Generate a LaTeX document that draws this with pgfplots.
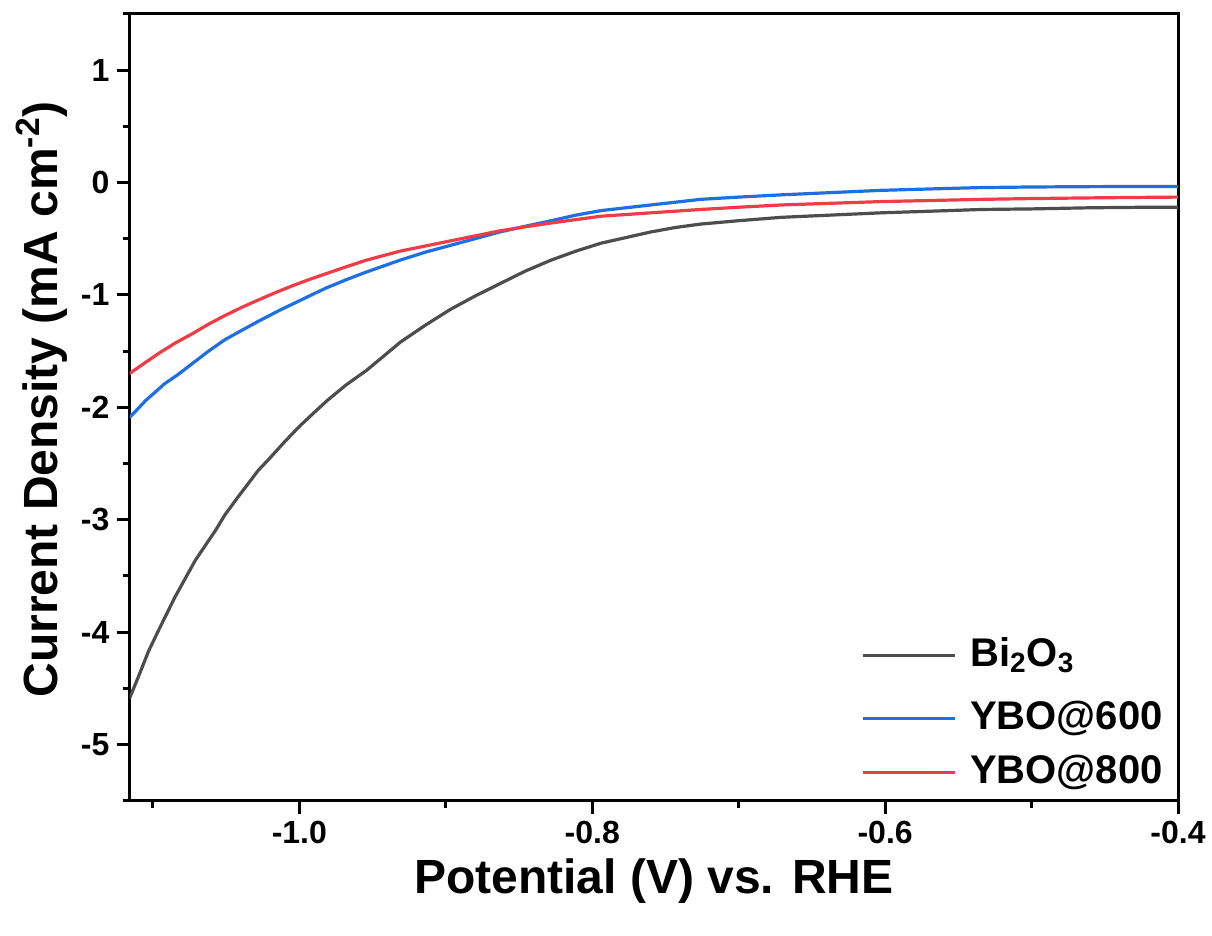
\documentclass[border=0pt]{standalone}
\usepackage{pgfplots}
\pgfplotsset{compat=1.18}
\usepackage{fontspec}
\setmainfont{Liberation Sans}
\definecolor{cgray}{HTML}{4D4D4D}
\definecolor{cblue}{HTML}{1E6FE3}
\definecolor{cred}{HTML}{F03C46}
\begin{document}
\begin{tikzpicture}
\useasboundingbox (0,0) rectangle (606pt,468pt);
\begin{axis}[
  at={(64.75pt,67.65pt)}, anchor=south west,
  scale only axis, width=524.25pt, height=393.4pt,
  xmin=-1.116, xmax=-0.4, ymin=-5.5, ymax=1.5,
  xtick={-1.0,-0.8,-0.6,-0.4}, ytick={-5,-4,...,1},
  minor xtick={-1.1,-0.9,-0.7,-0.5},
  minor ytick={-5.5,-4.5,...,1.5},
  tick align=outside, xtick pos=bottom, ytick pos=left,
  major tick length=6.5pt, minor tick length=3.5pt,
  every tick/.style={black, line width=1.5pt},
  axis line style={line width=1.5pt},
  /pgf/number format/assume math mode=true,
  xticklabel style={/pgf/number format/.cd, fixed, fixed zerofill, precision=1},
  ticklabel style={font=\bfseries\fontsize{16}{19}\selectfont},
  xlabel={Potential (V) vs. RHE},
  ylabel={Current Density (mA cm\textsuperscript{-2})},
  label style={font=\bfseries\fontsize{24}{28}\selectfont},
  xlabel style={at={(axis description cs:0.5,0)}, yshift=-40pt, anchor=center},
  ylabel style={at={(axis description cs:-0.0835,0.51)}, anchor=center},
  legend style={draw=none, fill=none, at={(axis description cs:0.9895,0.0123)}, anchor=south east,
    font=\bfseries\fontsize{20}{24}\selectfont, inner sep=0pt, row sep=6.5pt, column sep=5pt,
    cells={anchor=base west, inner sep=0pt, text height=15pt, text depth=4pt}},
  legend image code/.code={\draw[#1, line width=1.6pt] (0pt,5.5pt) -- (46pt,5.5pt);},
  every axis plot/.append style={line width=1.6pt},
]
\addplot[cgray] coordinates {
(-1.116,-4.59) (-1.110,-4.40) (-1.103,-4.17) (-1.096,-3.98) (-1.085,-3.69)
(-1.071,-3.36) (-1.057,-3.09) (-1.051,-2.96) (-1.042,-2.80) (-1.028,-2.56)
(-1.020,-2.45) (-1.011,-2.32) (-1.000,-2.17) (-0.991,-2.06) (-0.981,-1.94)
(-0.968,-1.80) (-0.954,-1.67) (-0.942,-1.54) (-0.931,-1.42) (-0.914,-1.27)
(-0.897,-1.13) (-0.880,-1.01) (-0.863,-0.90) (-0.846,-0.79) (-0.828,-0.69)
(-0.811,-0.61) (-0.794,-0.54) (-0.777,-0.49) (-0.760,-0.44) (-0.743,-0.40)
(-0.726,-0.37) (-0.700,-0.34) (-0.671,-0.31) (-0.637,-0.29) (-0.603,-0.27)
(-0.568,-0.255) (-0.534,-0.24) (-0.500,-0.235) (-0.460,-0.225) (-0.420,-0.22) (-0.400,-0.22)
};
\addlegendentry[text depth=6pt]{Bi\textsubscript{2}O\textsubscript{3}}
\addplot[cblue] coordinates {
(-1.116,-2.09) (-1.110,-2.01) (-1.105,-1.94) (-1.098,-1.86) (-1.092,-1.79)
(-1.083,-1.71) (-1.073,-1.61) (-1.062,-1.50) (-1.051,-1.40) (-1.040,-1.32)
(-1.028,-1.235) (-1.014,-1.14) (-0.998,-1.04) (-0.982,-0.94) (-0.968,-0.865)
(-0.955,-0.80) (-0.943,-0.745) (-0.931,-0.69) (-0.914,-0.62) (-0.897,-0.56)
(-0.880,-0.50) (-0.863,-0.44) (-0.846,-0.39) (-0.828,-0.34) (-0.811,-0.29)
(-0.794,-0.25) (-0.777,-0.225) (-0.760,-0.20) (-0.743,-0.175) (-0.726,-0.15)
(-0.700,-0.13) (-0.671,-0.11) (-0.637,-0.09) (-0.603,-0.07) (-0.568,-0.057)
(-0.534,-0.045) (-0.500,-0.04) (-0.460,-0.037) (-0.420,-0.035) (-0.400,-0.035)
};
\addlegendentry{YBO@600}
\addplot[cred] coordinates {
(-1.116,-1.70) (-1.105,-1.60) (-1.096,-1.52) (-1.085,-1.43) (-1.073,-1.345)
(-1.062,-1.26) (-1.051,-1.185) (-1.040,-1.115) (-1.028,-1.045) (-1.016,-0.978)
(-1.005,-0.92) (-0.993,-0.862) (-0.982,-0.812) (-0.968,-0.75) (-0.954,-0.69)
(-0.931,-0.61) (-0.914,-0.565) (-0.897,-0.52) (-0.880,-0.475) (-0.863,-0.43)
(-0.846,-0.395) (-0.828,-0.36) (-0.811,-0.33) (-0.794,-0.30) (-0.777,-0.285)
(-0.760,-0.27) (-0.743,-0.255) (-0.726,-0.24) (-0.700,-0.22) (-0.671,-0.20)
(-0.637,-0.185) (-0.603,-0.17) (-0.568,-0.16) (-0.534,-0.15) (-0.500,-0.143)
(-0.460,-0.137) (-0.420,-0.132) (-0.400,-0.13)
};
\addlegendentry{YBO@800}
\end{axis}
\end{tikzpicture}
\end{document}
